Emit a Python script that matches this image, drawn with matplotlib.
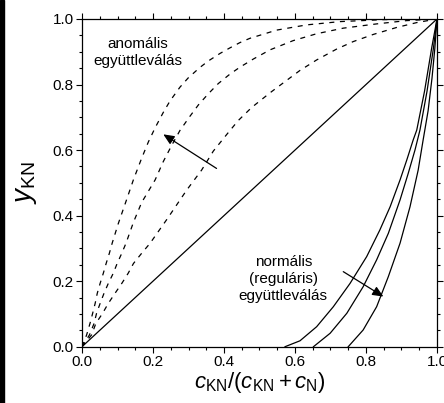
import numpy as np
import matplotlib
matplotlib.use("Agg")
import matplotlib.pyplot as plt
from matplotlib.patches import Rectangle

plt.rcParams['font.family'] = ['Liberation Sans', 'DejaVu Sans']
plt.rcParams['mathtext.fontset'] = 'custom'
plt.rcParams['mathtext.rm'] = 'Liberation Sans'
plt.rcParams['mathtext.it'] = 'Liberation Sans:italic'

# anomalous codeposition curves (dashed)
x_anom1 = [0, 0.013, 0.0225, 0.030, 0.037, 0.043, 0.051, 0.060, 0.068, 0.077, 0.085, 0.102, 0.126,
           0.145, 0.168, 0.187, 0.206, 0.229, 0.248, 0.276, 0.299, 0.332, 0.356, 0.389, 0.417,
           0.445, 0.473, 0.548, 0.633, 0.727, 0.849, 1.0]
y_anom1 = [0, 0.036, 0.071, 0.102, 0.132, 0.163, 0.193, 0.224, 0.254, 0.285, 0.316, 0.375, 0.450,
           0.510, 0.575, 0.625, 0.668, 0.715, 0.750, 0.792, 0.820, 0.852, 0.872, 0.895, 0.912,
           0.928, 0.941, 0.966, 0.982, 0.992, 0.998, 1.0]

x_anom2 = [0, 0.021, 0.034, 0.041, 0.051, 0.062, 0.074, 0.088, 0.099, 0.112, 0.124, 0.145, 0.168,
           0.206, 0.229, 0.253, 0.276, 0.304, 0.328, 0.356, 0.384, 0.417, 0.445, 0.483, 0.530,
           0.595, 0.661, 0.736, 0.830, 0.914, 1.0]
y_anom2 = [0, 0.036, 0.071, 0.102, 0.132, 0.163, 0.193, 0.224, 0.254, 0.285, 0.316, 0.38, 0.44,
           0.509, 0.565, 0.615, 0.660, 0.703, 0.738, 0.772, 0.803, 0.832, 0.853, 0.878, 0.906,
           0.934, 0.955, 0.972, 0.985, 0.995, 1.0]

x_anom3 = [0, 0.027, 0.039, 0.058, 0.074, 0.093, 0.112, 0.130, 0.145, 0.168, 0.192, 0.24, 0.295,
           0.337, 0.370, 0.408, 0.440, 0.478, 0.530, 0.567, 0.614, 0.661, 0.717, 0.764, 0.821,
           0.886, 0.943, 1.0]
y_anom3 = [0, 0.036, 0.071, 0.102, 0.132, 0.163, 0.193, 0.224, 0.254, 0.285, 0.316, 0.39, 0.478,
           0.539, 0.597, 0.648, 0.690, 0.730, 0.775, 0.805, 0.843, 0.875, 0.908, 0.931, 0.953,
           0.974, 0.989, 1.0]

# normal (regular) codeposition curves (solid)
x_norm1 = [0.572, 0.614, 0.661, 0.708, 0.755, 0.802, 0.839, 0.868, 0.896, 0.915, 0.933, 0.943,
           0.965, 0.985, 1.0]
y_norm1 = [0, 0.018, 0.061, 0.122, 0.193, 0.275, 0.356, 0.427, 0.509, 0.570, 0.631, 0.661,
           0.78, 0.911, 1.0]
x_norm2 = [0.652, 0.699, 0.746, 0.792, 0.830, 0.863, 0.896, 0.919, 0.938, 0.952, 0.972, 0.990, 1.0]
y_norm2 = [0, 0.041, 0.102, 0.183, 0.265, 0.346, 0.448, 0.529, 0.600, 0.661, 0.78, 0.911, 1.0]
x_norm3 = [0.750, 0.792, 0.830, 0.863, 0.896, 0.924, 0.947, 0.961, 0.975, 0.986, 0.994, 1.0]
y_norm3 = [0, 0.051, 0.122, 0.214, 0.316, 0.427, 0.539, 0.631, 0.72, 0.82, 0.911, 1.0]

diag = [0, 1]

fig = plt.figure(figsize=(4.44, 4.03), dpi=100)
ax = fig.add_axes([0.1847, 0.1397, 0.7995, 0.8132])

dash = (0, (4, 4.5))
for xs, ys in [(x_anom1, y_anom1), (x_anom2, y_anom2), (x_anom3, y_anom3)]:
    ax.plot(xs, ys, color='k', lw=0.9, linestyle=dash)
for xs, ys in [(x_norm1, y_norm1), (x_norm2, y_norm2), (x_norm3, y_norm3)]:
    ax.plot(xs, ys, color='k', lw=0.9)
ax.plot(diag, diag, color='k', lw=0.9)

arrow = dict(arrowstyle='-|>,head_length=0.5,head_width=0.22', color='k', lw=0.9,
             mutation_scale=13, shrinkA=0, shrinkB=0)
ax.annotate('', xy=(0.229, 0.648), xytext=(0.379, 0.544), arrowprops=arrow)
ax.annotate('', xy=(0.849, 0.153), xytext=(0.736, 0.229), arrowprops=arrow)

ax.text(0.158, 0.897, 'anomális\negyüttleválás', ha='center', va='center',
        fontsize=11, linespacing=1.25)
ax.text(0.567, 0.206, 'normális\n(reguláris)\negyüttleválás', ha='center', va='center',
        fontsize=11, linespacing=1.25)

ax.set_xlim(0, 1)
ax.set_ylim(0, 1)
ax.set_xticks(np.arange(0, 1.01, 0.2))
ax.set_yticks(np.arange(0, 1.01, 0.2))
ax.set_xticks(np.arange(0, 1.01, 0.05), minor=True)
ax.set_yticks(np.arange(0, 1.01, 0.05), minor=True)
ax.xaxis.set_major_formatter(matplotlib.ticker.FormatStrFormatter('%.1f'))
ax.yaxis.set_major_formatter(matplotlib.ticker.FormatStrFormatter('%.1f'))
ax.tick_params(which='both', direction='out', top=True, right=True, labelsize=11,
               width=0.8, pad=2)
ax.tick_params(which='major', length=4)
ax.tick_params(which='minor', length=2.5)
for s in ax.spines.values():
    s.set_linewidth(0.9)

ax.set_xlabel(r'$c_{\rm KN}/(c_{\rm KN}+c_{\rm N})$', fontsize=16, labelpad=1)
ax.set_ylabel(r'$y_{\rm KN}$', fontsize=20, labelpad=10)

fig.patches.append(Rectangle((0, 0), 4 / 444, 1, transform=fig.transFigure,
                             color='k', zorder=10))

fig.savefig('out.png', dpi=100)
